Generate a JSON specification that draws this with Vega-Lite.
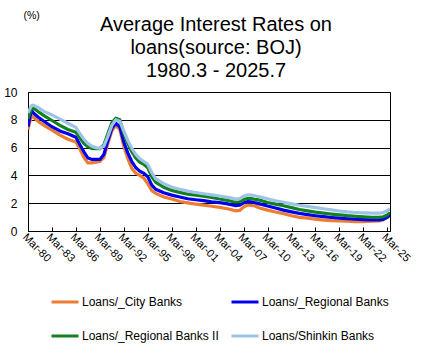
{
  "$schema": "https://vega.github.io/schema/vega-lite/v6.json",
  "width": 362,
  "height": 139,
  "autosize": {"type": "none"},
  "padding": {"left": 28, "top": 92, "right": 39, "bottom": 126},
  "background": "white",
  "config": {
    "font": "Liberation Sans",
    "view": {"stroke": "black", "strokeWidth": 1}
  },
  "title": {
    "text": ["Average Interest Rates on", "loans(source:  BOJ)", "1980.3 - 2025.7"],
    "font": "Liberation Sans",
    "fontSize": 20,
    "fontWeight": "normal",
    "color": "black",
    "lineHeight": 23,
    "anchor": "middle",
    "dx": 7,
    "dy": 81,
    "offset": 10
  },
  "data": {
    "values": [
      {"d": "1980-03-01", "Loans/_City Banks": 7.3, "Loans/_Regional Banks": 7.5, "Loans/_Regional Banks II": 8.1, "Loans/Shinkin Banks": 8.5},
      {"d": "1980-08-01", "Loans/_City Banks": 8.3, "Loans/_Regional Banks": 8.7, "Loans/_Regional Banks II": 8.8, "Loans/Shinkin Banks": 9.0},
      {"d": "1980-11-01", "Loans/_City Banks": 8.2, "Loans/_Regional Banks": 8.5, "Loans/_Regional Banks II": 8.85, "Loans/Shinkin Banks": 9.05},
      {"d": "1981-06-01", "Loans/_City Banks": 7.9, "Loans/_Regional Banks": 8.2, "Loans/_Regional Banks II": 8.6, "Loans/Shinkin Banks": 8.9},
      {"d": "1982-03-01", "Loans/_City Banks": 7.6, "Loans/_Regional Banks": 7.9, "Loans/_Regional Banks II": 8.3, "Loans/Shinkin Banks": 8.6},
      {"d": "1983-03-01", "Loans/_City Banks": 7.25, "Loans/_Regional Banks": 7.5, "Loans/_Regional Banks II": 7.95, "Loans/Shinkin Banks": 8.35},
      {"d": "1984-03-01", "Loans/_City Banks": 6.9, "Loans/_Regional Banks": 7.2, "Loans/_Regional Banks II": 7.6, "Loans/Shinkin Banks": 8.05},
      {"d": "1985-03-01", "Loans/_City Banks": 6.6, "Loans/_Regional Banks": 7.0, "Loans/_Regional Banks II": 7.3, "Loans/Shinkin Banks": 7.75},
      {"d": "1986-03-01", "Loans/_City Banks": 6.4, "Loans/_Regional Banks": 6.75, "Loans/_Regional Banks II": 7.1, "Loans/Shinkin Banks": 7.45},
      {"d": "1986-09-01", "Loans/_City Banks": 5.9, "Loans/_Regional Banks": 6.2, "Loans/_Regional Banks II": 6.7, "Loans/Shinkin Banks": 7.0},
      {"d": "1987-03-01", "Loans/_City Banks": 5.3, "Loans/_Regional Banks": 5.7, "Loans/_Regional Banks II": 6.3, "Loans/Shinkin Banks": 6.6},
      {"d": "1987-09-01", "Loans/_City Banks": 4.9, "Loans/_Regional Banks": 5.25, "Loans/_Regional Banks II": 6.05, "Loans/Shinkin Banks": 6.3},
      {"d": "1988-03-01", "Loans/_City Banks": 4.9, "Loans/_Regional Banks": 5.15, "Loans/_Regional Banks II": 5.95, "Loans/Shinkin Banks": 6.1},
      {"d": "1988-09-01", "Loans/_City Banks": 4.95, "Loans/_Regional Banks": 5.15, "Loans/_Regional Banks II": 5.93, "Loans/Shinkin Banks": 6.0},
      {"d": "1989-03-01", "Loans/_City Banks": 5.0, "Loans/_Regional Banks": 5.15, "Loans/_Regional Banks II": 5.93, "Loans/Shinkin Banks": 5.95},
      {"d": "1989-09-01", "Loans/_City Banks": 5.3, "Loans/_Regional Banks": 5.5, "Loans/_Regional Banks II": 6.2, "Loans/Shinkin Banks": 6.1},
      {"d": "1990-03-01", "Loans/_City Banks": 6.3, "Loans/_Regional Banks": 6.5, "Loans/_Regional Banks II": 7.0, "Loans/Shinkin Banks": 6.8},
      {"d": "1990-09-01", "Loans/_City Banks": 7.2, "Loans/_Regional Banks": 7.4, "Loans/_Regional Banks II": 7.8, "Loans/Shinkin Banks": 7.6},
      {"d": "1991-03-01", "Loans/_City Banks": 7.6, "Loans/_Regional Banks": 7.75, "Loans/_Regional Banks II": 8.1, "Loans/Shinkin Banks": 8.0},
      {"d": "1991-09-01", "Loans/_City Banks": 7.3, "Loans/_Regional Banks": 7.5, "Loans/_Regional Banks II": 8.0, "Loans/Shinkin Banks": 7.9},
      {"d": "1992-03-01", "Loans/_City Banks": 6.1, "Loans/_Regional Banks": 6.4, "Loans/_Regional Banks II": 7.0, "Loans/Shinkin Banks": 7.2},
      {"d": "1992-09-01", "Loans/_City Banks": 5.2, "Loans/_Regional Banks": 5.6, "Loans/_Regional Banks II": 6.3, "Loans/Shinkin Banks": 6.5},
      {"d": "1993-03-01", "Loans/_City Banks": 4.5, "Loans/_Regional Banks": 5.0, "Loans/_Regional Banks II": 5.7, "Loans/Shinkin Banks": 5.95},
      {"d": "1993-09-01", "Loans/_City Banks": 4.15, "Loans/_Regional Banks": 4.55, "Loans/_Regional Banks II": 5.25, "Loans/Shinkin Banks": 5.5},
      {"d": "1994-03-01", "Loans/_City Banks": 4.0, "Loans/_Regional Banks": 4.3, "Loans/_Regional Banks II": 4.95, "Loans/Shinkin Banks": 5.2},
      {"d": "1994-09-01", "Loans/_City Banks": 3.8, "Loans/_Regional Banks": 4.15, "Loans/_Regional Banks II": 4.8, "Loans/Shinkin Banks": 5.0},
      {"d": "1995-03-01", "Loans/_City Banks": 3.4, "Loans/_Regional Banks": 3.9, "Loans/_Regional Banks II": 4.55, "Loans/Shinkin Banks": 4.8},
      {"d": "1995-09-01", "Loans/_City Banks": 2.9, "Loans/_Regional Banks": 3.3, "Loans/_Regional Banks II": 3.9, "Loans/Shinkin Banks": 4.2},
      {"d": "1996-03-01", "Loans/_City Banks": 2.7, "Loans/_Regional Banks": 3.0, "Loans/_Regional Banks II": 3.5, "Loans/Shinkin Banks": 3.75},
      {"d": "1997-03-01", "Loans/_City Banks": 2.45, "Loans/_Regional Banks": 2.75, "Loans/_Regional Banks II": 3.15, "Loans/Shinkin Banks": 3.4},
      {"d": "1998-03-01", "Loans/_City Banks": 2.3, "Loans/_Regional Banks": 2.58, "Loans/_Regional Banks II": 2.92, "Loans/Shinkin Banks": 3.15},
      {"d": "1999-03-01", "Loans/_City Banks": 2.12, "Loans/_Regional Banks": 2.45, "Loans/_Regional Banks II": 2.78, "Loans/Shinkin Banks": 3.0},
      {"d": "2000-03-01", "Loans/_City Banks": 2.02, "Loans/_Regional Banks": 2.32, "Loans/_Regional Banks II": 2.65, "Loans/Shinkin Banks": 2.87},
      {"d": "2001-03-01", "Loans/_City Banks": 1.93, "Loans/_Regional Banks": 2.25, "Loans/_Regional Banks II": 2.57, "Loans/Shinkin Banks": 2.77},
      {"d": "2002-03-01", "Loans/_City Banks": 1.86, "Loans/_Regional Banks": 2.18, "Loans/_Regional Banks II": 2.5, "Loans/Shinkin Banks": 2.68},
      {"d": "2003-03-01", "Loans/_City Banks": 1.78, "Loans/_Regional Banks": 2.1, "Loans/_Regional Banks II": 2.42, "Loans/Shinkin Banks": 2.6},
      {"d": "2004-03-01", "Loans/_City Banks": 1.7, "Loans/_Regional Banks": 2.04, "Loans/_Regional Banks II": 2.3, "Loans/Shinkin Banks": 2.52},
      {"d": "2005-03-01", "Loans/_City Banks": 1.6, "Loans/_Regional Banks": 1.95, "Loans/_Regional Banks II": 2.2, "Loans/Shinkin Banks": 2.42},
      {"d": "2006-03-01", "Loans/_City Banks": 1.45, "Loans/_Regional Banks": 1.82, "Loans/_Regional Banks II": 2.07, "Loans/Shinkin Banks": 2.3},
      {"d": "2006-09-01", "Loans/_City Banks": 1.48, "Loans/_Regional Banks": 1.85, "Loans/_Regional Banks II": 2.1, "Loans/Shinkin Banks": 2.33},
      {"d": "2007-03-01", "Loans/_City Banks": 1.72, "Loans/_Regional Banks": 2.02, "Loans/_Regional Banks II": 2.25, "Loans/Shinkin Banks": 2.5},
      {"d": "2007-09-01", "Loans/_City Banks": 1.87, "Loans/_Regional Banks": 2.12, "Loans/_Regional Banks II": 2.35, "Loans/Shinkin Banks": 2.6},
      {"d": "2008-03-01", "Loans/_City Banks": 1.85, "Loans/_Regional Banks": 2.1, "Loans/_Regional Banks II": 2.33, "Loans/Shinkin Banks": 2.58},
      {"d": "2008-09-01", "Loans/_City Banks": 1.78, "Loans/_Regional Banks": 2.02, "Loans/_Regional Banks II": 2.27, "Loans/Shinkin Banks": 2.52},
      {"d": "2009-03-01", "Loans/_City Banks": 1.65, "Loans/_Regional Banks": 1.95, "Loans/_Regional Banks II": 2.22, "Loans/Shinkin Banks": 2.46},
      {"d": "2010-03-01", "Loans/_City Banks": 1.5, "Loans/_Regional Banks": 1.8, "Loans/_Regional Banks II": 2.05, "Loans/Shinkin Banks": 2.32},
      {"d": "2011-03-01", "Loans/_City Banks": 1.37, "Loans/_Regional Banks": 1.65, "Loans/_Regional Banks II": 1.93, "Loans/Shinkin Banks": 2.18},
      {"d": "2012-03-01", "Loans/_City Banks": 1.25, "Loans/_Regional Banks": 1.5, "Loans/_Regional Banks II": 1.82, "Loans/Shinkin Banks": 2.07},
      {"d": "2013-03-01", "Loans/_City Banks": 1.1, "Loans/_Regional Banks": 1.38, "Loans/_Regional Banks II": 1.68, "Loans/Shinkin Banks": 1.95},
      {"d": "2014-03-01", "Loans/_City Banks": 0.98, "Loans/_Regional Banks": 1.27, "Loans/_Regional Banks II": 1.55, "Loans/Shinkin Banks": 1.85},
      {"d": "2015-03-01", "Loans/_City Banks": 0.92, "Loans/_Regional Banks": 1.18, "Loans/_Regional Banks II": 1.45, "Loans/Shinkin Banks": 1.77},
      {"d": "2016-03-01", "Loans/_City Banks": 0.85, "Loans/_Regional Banks": 1.1, "Loans/_Regional Banks II": 1.36, "Loans/Shinkin Banks": 1.68},
      {"d": "2017-03-01", "Loans/_City Banks": 0.78, "Loans/_Regional Banks": 1.03, "Loans/_Regional Banks II": 1.29, "Loans/Shinkin Banks": 1.6},
      {"d": "2018-03-01", "Loans/_City Banks": 0.74, "Loans/_Regional Banks": 0.97, "Loans/_Regional Banks II": 1.22, "Loans/Shinkin Banks": 1.52},
      {"d": "2019-03-01", "Loans/_City Banks": 0.72, "Loans/_Regional Banks": 0.92, "Loans/_Regional Banks II": 1.16, "Loans/Shinkin Banks": 1.44},
      {"d": "2020-03-01", "Loans/_City Banks": 0.7, "Loans/_Regional Banks": 0.88, "Loans/_Regional Banks II": 1.1, "Loans/Shinkin Banks": 1.37},
      {"d": "2021-03-01", "Loans/_City Banks": 0.68, "Loans/_Regional Banks": 0.85, "Loans/_Regional Banks II": 1.06, "Loans/Shinkin Banks": 1.33},
      {"d": "2022-03-01", "Loans/_City Banks": 0.68, "Loans/_Regional Banks": 0.82, "Loans/_Regional Banks II": 1.02, "Loans/Shinkin Banks": 1.3},
      {"d": "2023-03-01", "Loans/_City Banks": 0.7, "Loans/_Regional Banks": 0.8, "Loans/_Regional Banks II": 0.99, "Loans/Shinkin Banks": 1.28},
      {"d": "2024-03-01", "Loans/_City Banks": 0.72, "Loans/_Regional Banks": 0.8, "Loans/_Regional Banks II": 0.98, "Loans/Shinkin Banks": 1.28},
      {"d": "2024-09-01", "Loans/_City Banks": 0.8, "Loans/_Regional Banks": 0.85, "Loans/_Regional Banks II": 1.02, "Loans/Shinkin Banks": 1.33},
      {"d": "2025-03-01", "Loans/_City Banks": 1.0, "Loans/_Regional Banks": 1.0, "Loans/_Regional Banks II": 1.15, "Loans/Shinkin Banks": 1.45},
      {"d": "2025-07-01", "Loans/_City Banks": 1.15, "Loans/_Regional Banks": 1.2, "Loans/_Regional Banks II": 1.35, "Loans/Shinkin Banks": 1.6}
    ]
  },
  "transform": [
    {"fold": ["Loans/_City Banks", "Loans/_Regional Banks", "Loans/_Regional Banks II", "Loans/Shinkin Banks"], "as": ["series", "rate"]}
  ],
  "mark": {"type": "line", "strokeWidth": 3.2, "clip": true},
  "encoding": {
    "x": {
      "field": "d",
      "type": "temporal",
      "scale": {"type": "utc", "domain": [{"year": 1980, "month": 3, "date": 1, "utc": true}, {"year": 2025, "month": 7, "date": 1, "utc": true}]},
      "axis": {
        "title": null,
        "grid": false,
        "values": [
          {"year": 1980, "month": 3, "date": 1, "utc": true},
          {"year": 1983, "month": 3, "date": 1, "utc": true},
          {"year": 1986, "month": 3, "date": 1, "utc": true},
          {"year": 1989, "month": 3, "date": 1, "utc": true},
          {"year": 1992, "month": 3, "date": 1, "utc": true},
          {"year": 1995, "month": 3, "date": 1, "utc": true},
          {"year": 1998, "month": 3, "date": 1, "utc": true},
          {"year": 2001, "month": 3, "date": 1, "utc": true},
          {"year": 2004, "month": 3, "date": 1, "utc": true},
          {"year": 2007, "month": 3, "date": 1, "utc": true},
          {"year": 2010, "month": 3, "date": 1, "utc": true},
          {"year": 2013, "month": 3, "date": 1, "utc": true},
          {"year": 2016, "month": 3, "date": 1, "utc": true},
          {"year": 2019, "month": 3, "date": 1, "utc": true},
          {"year": 2022, "month": 3, "date": 1, "utc": true},
          {"year": 2025, "month": 3, "date": 1, "utc": true}
        ],
        "labelExpr": "utcFormat(datum.value, '%b-%y')",
        "labelAngle": 45,
        "labelAlign": "left",
        "labelBaseline": "top",
        "labelPadding": 4,
        "labelFontSize": 11,
        "labelColor": "black",
        "labelOverlap": false,
        "labelFlush": false,
        "tickSize": -4,
        "tickColor": "black",
        "domainColor": "black"
      }
    },
    "y": {
      "field": "rate",
      "type": "quantitative",
      "scale": {"domain": [0, 10], "nice": false},
      "axis": {
        "values": [0, 2, 4, 6, 8, 10],
        "grid": true,
        "gridColor": "black",
        "gridOpacity": 1,
        "tickSize": 0,
        "domainColor": "black",
        "labelFontSize": 12,
        "labelColor": "black",
        "labelPadding": 11,
        "title": "(%)",
        "titleAngle": 0,
        "titleAlign": "left",
        "titleBaseline": "middle",
        "titleX": -5,
        "titleY": -77,
        "titleFontSize": 10.5,
        "titleFontWeight": "normal",
        "titleColor": "black"
      }
    },
    "color": {
      "field": "series",
      "type": "nominal",
      "scale": {
        "domain": ["Loans/_City Banks", "Loans/_Regional Banks", "Loans/_Regional Banks II", "Loans/Shinkin Banks"],
        "range": ["#ED7D31", "#0000EE", "#12801E", "#9DC3E6"]
      },
      "legend": {
        "title": null,
        "orient": "none",
        "legendX": 22,
        "legendY": 195,
        "columns": 2,
        "direction": "horizontal",
        "symbolType": "stroke",
        "symbolSize": 729,
        "symbolStrokeWidth": 3,
        "labelFontSize": 12,
        "labelColor": "black",
        "labelLimit": 300,
        "labelOffset": 2,
        "rowPadding": 13,
        "columnPadding": 6
      }
    }
  }
}
